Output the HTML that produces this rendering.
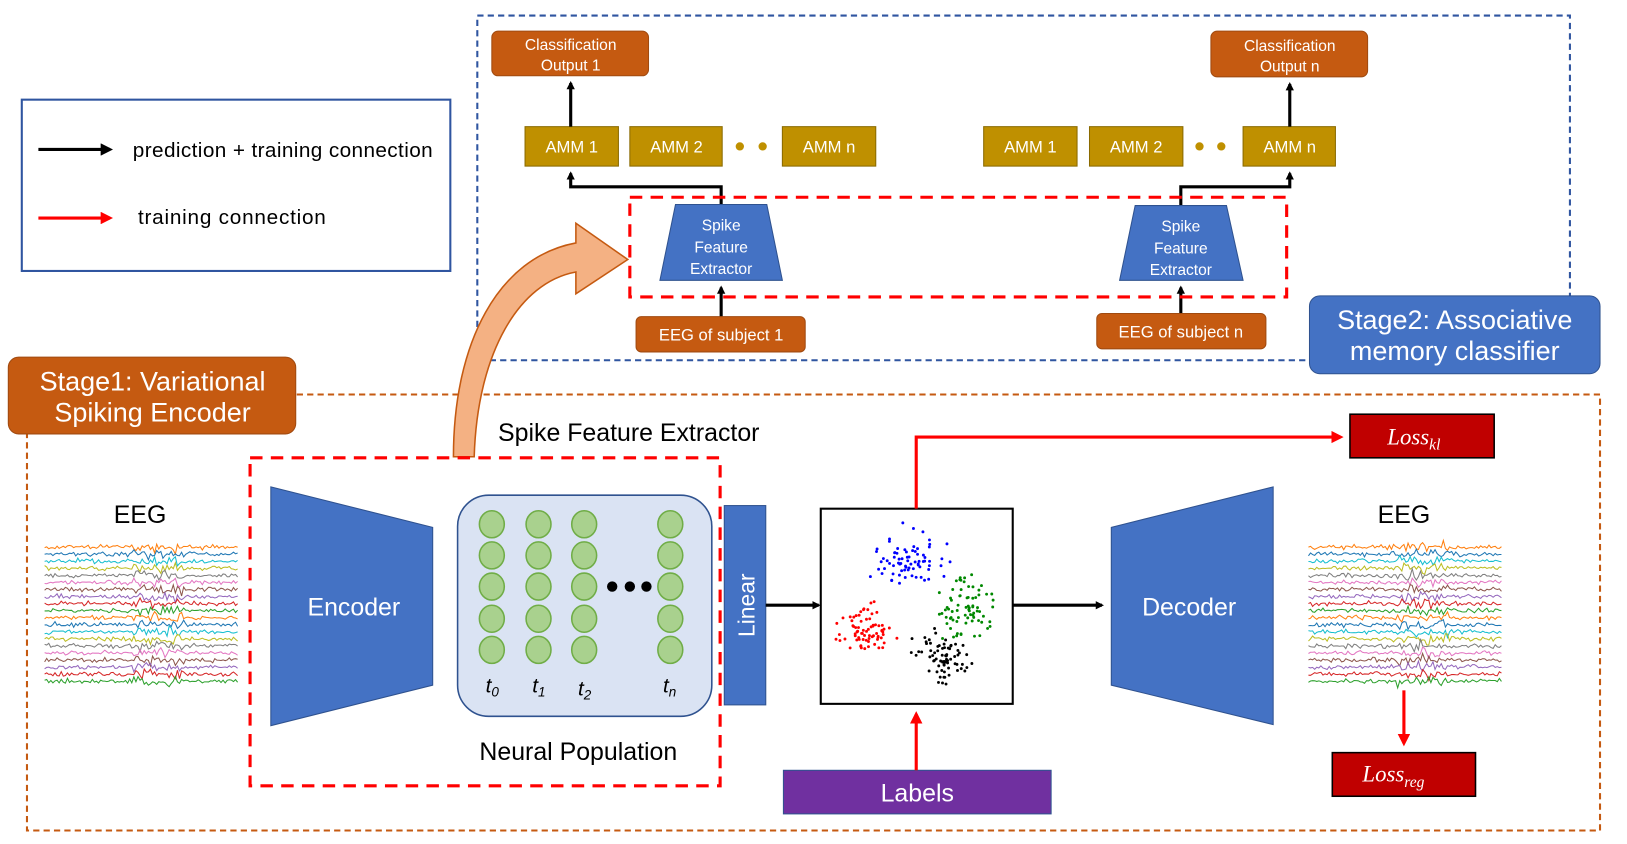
<!DOCTYPE html>
<html><head><meta charset="utf-8"><style>
html,body{margin:0;padding:0;background:#fff;width:1627px;height:844px;overflow:hidden}
svg{display:block}
text{font-family:"Liberation Sans",sans-serif}
.w{fill:#fff}
.m{font-family:"Liberation Serif",serif;font-style:italic}
</style></head><body>
<svg id="s" width="1627" height="844" viewBox="0 0 1568 813" preserveAspectRatio="none" xmlns="http://www.w3.org/2000/svg">
<defs>
<marker id="ab" markerWidth="8" markerHeight="8" refX="6" refY="4" orient="auto" markerUnits="userSpaceOnUse"><path d="M0,0 L8,4 L0,8 Z" fill="#000"/></marker>
<marker id="ar" markerWidth="12" markerHeight="12" refX="9" refY="6" orient="auto" markerUnits="userSpaceOnUse"><path d="M0,0 L12,6 L0,12 Z" fill="#f00"/></marker>
<marker id="ab2" markerWidth="12" markerHeight="12" refX="9" refY="6" orient="auto" markerUnits="userSpaceOnUse"><path d="M0,0 L12,6 L0,12 Z" fill="#000"/></marker>
</defs>
<rect x="21" y="96" width="413" height="165" fill="none" stroke="#2f55a0" stroke-width="2"/>
<line x1="37" y1="144" x2="106" y2="144" stroke="#000" stroke-width="3" marker-end="url(#ab2)"/>
<text x="128" y="151" font-size="20" textLength="289">prediction + training connection</text>
<line x1="37" y1="210" x2="106" y2="210" stroke="#f00" stroke-width="3" marker-end="url(#ar)"/>
<text x="133" y="216" font-size="20" textLength="181">training  connection</text>
<rect x="460" y="15" width="1053" height="332" fill="none" stroke="#2f55a0" stroke-width="2" stroke-dasharray="6,4"/>
<rect x="474" y="30" width="151" height="43" rx="6" fill="#c55a11" stroke="#a04a10"/>
<text x="550" y="48" font-size="15" class="w" text-anchor="middle">Classification</text>
<text x="550" y="68" font-size="15" class="w" text-anchor="middle">Output 1</text>
<rect x="1167" y="30" width="151" height="44" rx="6" fill="#c55a11" stroke="#a04a10"/>
<text x="1243" y="49" font-size="15" class="w" text-anchor="middle">Classification</text>
<text x="1243" y="69" font-size="15" class="w" text-anchor="middle">Output n</text>
<g fill="#bf9000" stroke="#8a6a00">
<rect x="506" y="122" width="90" height="38"/><rect x="607" y="122" width="89" height="38"/><rect x="754" y="122" width="90" height="38"/>
<rect x="948" y="122" width="90" height="38"/><rect x="1050" y="122" width="90" height="38"/><rect x="1198" y="122" width="89" height="38"/>
</g>
<g fill="#bf9000"><circle cx="713" cy="141" r="4"/><circle cx="735" cy="141" r="4"/><circle cx="1156" cy="141" r="4"/><circle cx="1177" cy="141" r="4"/></g>
<g font-size="16" class="w" text-anchor="middle">
<text x="551" y="147">AMM  1</text><text x="652" y="147">AMM  2</text><text x="799" y="147">AMM  n</text>
<text x="993" y="147">AMM  1</text><text x="1095" y="147">AMM  2</text><text x="1243" y="147">AMM  n</text>
</g>
<g stroke="#000" stroke-width="3" fill="none">
<line x1="550" y1="122" x2="550" y2="80" marker-end="url(#ab)"/>
<polyline points="695,197 695,180 550,180 550,167" marker-end="url(#ab)"/>
<polyline points="1138,198 1138,180 1243,180 1243,167" marker-end="url(#ab)"/>
<line x1="1243" y1="122" x2="1243" y2="81" marker-end="url(#ab)"/>
<line x1="695" y1="305" x2="695" y2="277" marker-end="url(#ab)"/>
<line x1="1138" y1="302" x2="1138" y2="277" marker-end="url(#ab)"/>
</g>
<rect x="607" y="190" width="633" height="96" fill="none" stroke="#f00" stroke-width="3" stroke-dasharray="12,8"/>
<polygon points="651,197 739,197 754,270 636,270" fill="#4472c4" stroke="#2f528f"/>
<polygon points="1094,198 1182,198 1198,270 1079,270" fill="#4472c4" stroke="#2f528f"/>
<g font-size="15" class="w" text-anchor="middle">
<text x="695" y="222">Spike</text><text x="695" y="243">Feature</text><text x="695" y="264">Extractor</text>
<text x="1138" y="223">Spike</text><text x="1138" y="244">Feature</text><text x="1138" y="265">Extractor</text>
</g>
<rect x="613" y="305" width="163" height="34" rx="5" fill="#c55a11" stroke="#a04a10"/>
<text x="695" y="328" font-size="16" class="w" text-anchor="middle">EEG of subject 1</text>
<rect x="1057" y="302" width="163" height="34" rx="5" fill="#c55a11" stroke="#a04a10"/>
<text x="1138" y="325" font-size="16" class="w" text-anchor="middle">EEG of subject n</text>
<rect x="1262" y="285" width="280" height="75" rx="10" fill="#4472c4" stroke="#2f528f"/>
<text x="1402" y="317" font-size="26" class="w" text-anchor="middle">Stage2: Associative</text>
<text x="1402" y="347" font-size="26" class="w" text-anchor="middle">memory classifier</text>
<rect x="26" y="380" width="1516" height="420" fill="none" stroke="#c55a11" stroke-width="2" stroke-dasharray="6,4"/>
<rect x="8" y="344" width="277" height="74" rx="10" fill="#c55a11" stroke="#a04a10"/>
<text x="147" y="376" font-size="26" class="w" text-anchor="middle">Stage1: Variational</text>
<text x="147" y="406" font-size="26" class="w" text-anchor="middle">Spiking Encoder</text>
<path d="M437,440 C437,330 480,248 555,234 L555,215 L605,250 L555,283 L555,262 C500,272 460,340 457,440 Z" fill="#f4b183" stroke="#c55a11" stroke-width="1.5"/>
<text x="480" y="425" font-size="24">Spike Feature Extractor</text>
<rect x="241" y="441" width="453" height="316" fill="none" stroke="#f00" stroke-width="3" stroke-dasharray="12,8"/>
<polygon points="261,469 417,508 417,660 261,699" fill="#4472c4" stroke="#2f528f"/>
<text x="341" y="593" font-size="24" class="w" text-anchor="middle">Encoder</text>
<rect x="441" y="477" width="245" height="213" rx="30" fill="#dae3f3" stroke="#2f528f" stroke-width="1.5"/>
<g id="neur" fill="#a9d18e" stroke="#70ad47" stroke-width="1.5"></g>
<g fill="#000"><circle cx="590" cy="565" r="5"/><circle cx="607" cy="565" r="5"/><circle cx="623" cy="565" r="5"/></g>
<g font-size="20" class="m">
<text x="468" y="667">t<tspan font-size="13" dy="4">0</tspan></text>
<text x="513" y="667">t<tspan font-size="13" dy="4">1</tspan></text>
<text x="557" y="670">t<tspan font-size="13" dy="4">2</tspan></text>
<text x="639" y="667">t<tspan font-size="13" dy="4">n</tspan></text>
</g>
<text x="462" y="732" font-size="24">Neural Population</text>
<rect x="698" y="487" width="40" height="192" fill="#4472c4" stroke="#2f528f"/>
<text transform="translate(727,583) rotate(-90)" font-size="22" class="w" text-anchor="middle">Linear</text>
<line x1="738" y1="583" x2="789" y2="583" stroke="#000" stroke-width="3" marker-end="url(#ab)"/>
<rect x="791" y="490" width="185" height="188" fill="#fff" stroke="#000" stroke-width="2"/>
<g id="sc"></g>
<polyline points="883,490 883,421 1292,421" fill="none" stroke="#f00" stroke-width="3" marker-end="url(#ar)"/>
<rect x="1301" y="399" width="139" height="42" fill="#c00000" stroke="#000" stroke-width="1.5"/>
<text x="1337" y="428" font-size="22" class="m w">Loss<tspan font-size="15" dy="5">kl</tspan></text>
<line x1="976" y1="583" x2="1062" y2="583" stroke="#000" stroke-width="3" marker-end="url(#ab)"/>
<polygon points="1071,508 1227,469 1227,698 1071,660" fill="#4472c4" stroke="#2f528f"/>
<text x="1146" y="593" font-size="24" class="w" text-anchor="middle">Decoder</text>
<text x="135" y="504" font-size="24" text-anchor="middle">EEG</text>
<text x="1353" y="504" font-size="24" text-anchor="middle">EEG</text>
<g id="eeg1"></g><g id="eeg2"></g>
<line x1="1353" y1="665" x2="1353" y2="716" stroke="#f00" stroke-width="3" marker-end="url(#ar)"/>
<rect x="1284" y="725" width="138" height="42" fill="#c00000" stroke="#000" stroke-width="1.5"/>
<text x="1313" y="753" font-size="22" class="m w">Loss<tspan font-size="15" dy="5">reg</tspan></text>
<rect x="755" y="742" width="258" height="42" fill="#7030a0" stroke="#2f528f"/>
<text x="884" y="772" font-size="24" class="w" text-anchor="middle">Labels</text>
<line x1="883" y1="742" x2="883" y2="688" stroke="#f00" stroke-width="3" marker-end="url(#ar)"/>
</svg>
<script>
var NS="http://www.w3.org/2000/svg";
function el(p,t,a){var e=document.createElementNS(NS,t);for(var k in a)e.setAttribute(k,a[k]);p.appendChild(e);return e;}
var seed=7;function r(){seed=(seed*16807)%2147483647;return seed/2147483647;}
function g(){return (r()+r()+r()+r()-2)/0.8;}
var n=document.getElementById('neur');
[474,519,563,646].forEach(function(x){[505,535,565,596,626].forEach(function(y){el(n,'ellipse',{cx:x,cy:y,rx:12,ry:13});});});
var sc=document.getElementById('sc');
[[875,538,'#00f',24,20],[932,585,'#080',22,22],[832,607,'#f00',20,20],[910,632,'#000',22,20]].forEach(function(c){
 for(var i=0;i<75;i++){el(sc,'circle',{cx:c[0]+g()*c[3]*0.8,cy:c[1]+g()*c[4]*0.8,r:1.4,fill:c[2]});}});
var cols=['#ff7f0e','#1f77b4','#17becf','#bcbd22','#7f7f7f','#e377c2','#8c564b','#9467bd','#d62728','#2ca02c'];
function eeg(id,x0,x1){var p=document.getElementById(id);
 for(var i=0;i<20;i++){var y=527+i*6.8,d='';for(var x=x0;x<=x1;x+=2){var a=(Math.abs(x-x0-110)<25?2.2:1)*1.5;d+=(x==x0?'M':'L')+x+','+(y+g()*a).toFixed(1);}
 el(p,'path',{d:d,fill:'none',stroke:cols[i%10],'stroke-width':1});}}
eeg('eeg1',43,230);eeg('eeg2',1261,1447);
</script>
</body></html>
